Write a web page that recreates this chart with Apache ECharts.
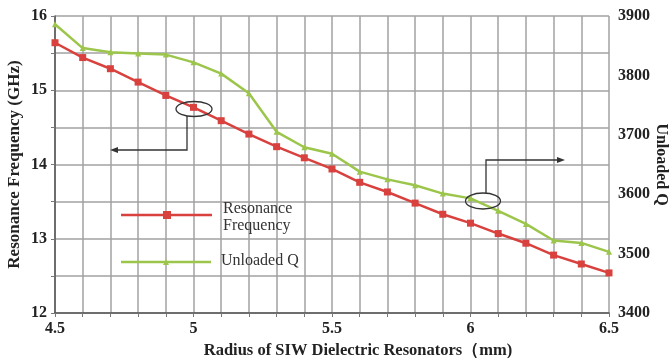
<!DOCTYPE html>
<html><head><meta charset="utf-8">
<script src="https://cdn.jsdelivr.net/npm/echarts@6/dist/echarts.min.js"></script>
<style>html,body{margin:0;padding:0;background:#fff}#c{width:671px;height:358px}</style>
</head><body><div id="c"></div>
<script>
var radius = [4.5,4.6,4.7,4.8,4.9,5.0,5.1,5.2,5.3,5.4,5.5,5.6,5.7,5.8,5.9,6.0,6.1,6.2,6.3,6.4,6.5];
var resonanceFreq = [15.64,15.44,15.29,15.11,14.93,14.77,14.59,14.41,14.24,14.09,13.94,13.76,13.63,13.48,13.33,13.21,13.07,12.94,12.78,12.66,12.54];
var unloadedQ = [3886,3846,3839,3837,3835,3822,3803,3770,3705,3679,3668,3638,3625,3615,3601,3593,3572,3550,3522,3518,3503];
var xTickLabels = ['4.5','5','5.5','6','6.5'];
var leftTickLabels = ['12','13','14','15','16'];
var rightTickLabels = ['3400','3500','3600','3700','3800','3900'];

var RED = '#d8413d', GREEN = '#9cc64b';
var FONT = '"Liberation Serif", "DejaVu Serif", serif';

var chart = echarts.init(document.getElementById('c'));
function pair(xs, ys){ return xs.map(function(x,i){ return [x, ys[i]]; }); }
function fmtX(v){
  for (var i=0;i<xTickLabels.length;i++) if (Math.abs(parseFloat(xTickLabels[i]) - v) < 1e-6) return xTickLabels[i];
  return '';
}
function fmtL(v){
  for (var i=0;i<leftTickLabels.length;i++) if (Math.abs(parseFloat(leftTickLabels[i]) - v) < 1e-6) return leftTickLabels[i];
  return '';
}
chart.setOption({
  animation:false,
  backgroundColor:'#fff',
  grid:{left:55,right:62,top:16,bottom:45,containLabel:false,outerBoundsMode:'none'},
  xAxis:{type:'value',min:4.5,max:6.5,interval:0.1,
    axisLine:{lineStyle:{color:'#555',width:1.5}},
    axisTick:{show:true,length:4,lineStyle:{color:'#777'}},
    axisLabel:{formatter:fmtX,color:'#222',fontFamily:FONT,fontWeight:'bold',fontSize:16,margin:8,showMinLabel:true,showMaxLabel:true},
    splitLine:{show:true,lineStyle:{color:'#a2a2a2',width:1.5}},
    name:'Radius of SIW Dielectric Resonators（mm)',nameLocation:'middle',nameGap:29,nameMoveOverlap:false,
    nameTextStyle:{fontFamily:FONT,fontWeight:'bold',fontSize:16.5,color:'#222',padding:[0,0,0,52]}
  },
  yAxis:[{type:'value',min:12,max:16,interval:0.5,position:'left',
    axisLine:{show:true,lineStyle:{color:'#555',width:1.5}},
    axisTick:{show:true,length:4,lineStyle:{color:'#777'}},
    axisLabel:{formatter:fmtL,color:'#222',fontFamily:FONT,fontWeight:'bold',fontSize:16,margin:8},
    splitLine:{show:true,lineStyle:{color:'#a2a2a2',width:1.5}},
    name:'Resonance Frequency (GHz)',nameLocation:'middle',nameGap:32,nameRotate:90,nameMoveOverlap:false,
    nameTextStyle:{fontFamily:FONT,fontWeight:'bold',fontSize:17,color:'#222'}
  },{type:'value',min:3400,max:3900,interval:100,position:'right',
    axisLine:{show:false},axisTick:{show:false},
    axisLabel:{formatter:function(v){return rightTickLabels[Math.round((v-3400)/100)]||'';},color:'#222',fontFamily:FONT,fontWeight:'bold',fontSize:16,margin:9},
    splitLine:{show:false},
    name:'Unloaded Q',nameLocation:'middle',nameGap:44,nameRotate:-90,nameMoveOverlap:false,
    nameTextStyle:{fontFamily:FONT,fontWeight:'bold',fontSize:16,color:'#222'}
  }],
  series:[
    {name:'Resonance Frequency',type:'line',yAxisIndex:0,data:pair(radius,resonanceFreq),
     symbol:'rect',symbolSize:7,lineStyle:{color:RED,width:2.5},itemStyle:{color:RED},z:3},
    {name:'Unloaded Q',type:'line',yAxisIndex:1,data:pair(radius,unloadedQ),
     symbol:'triangle',symbolSize:6,lineStyle:{color:GREEN,width:2.5},itemStyle:{color:GREEN},z:2}
  ],
  graphic:[
    {type:'line',shape:{x1:121,y1:215,x2:212,y2:215},style:{stroke:RED,lineWidth:2.5},z:10},
    {type:'rect',shape:{x:163,y:211,width:8,height:8},style:{fill:RED},z:11},
    {type:'text',left:223,top:200,style:{text:'Resonance\nFrequency',font:'16px '+FONT,fill:'#333',lineHeight:17},z:10},
    {type:'line',shape:{x1:121,y1:262,x2:211,y2:262},style:{stroke:GREEN,lineWidth:2.5},z:10},
    {type:'polygon',shape:{points:[[166,259],[169,265],[163,265]]},style:{fill:GREEN},z:11},
    {type:'text',left:221,top:253,style:{text:'Unloaded Q',font:'16px '+FONT,fill:'#333'},z:10},
    {type:'ellipse',shape:{cx:194,cy:109,rx:18,ry:7.5},style:{fill:'none',stroke:'#333',lineWidth:1.3},z:12},
    {type:'polyline',shape:{points:[[187,116],[187,150],[116,150]]},style:{fill:'none',stroke:'#333',lineWidth:1.3},z:12},
    {type:'polygon',shape:{points:[[110,150],[118,147],[118,153]]},style:{fill:'#333'},z:12},
    {type:'ellipse',shape:{cx:483,cy:201,rx:17.5,ry:8},style:{fill:'none',stroke:'#333',lineWidth:1.3},z:12},
    {type:'polyline',shape:{points:[[486,193],[486,160],[558,160]]},style:{fill:'none',stroke:'#333',lineWidth:1.3},z:12},
    {type:'polygon',shape:{points:[[565,160],[557,157],[557,163]]},style:{fill:'#333'},z:12}
  ]
});
</script></body></html>
